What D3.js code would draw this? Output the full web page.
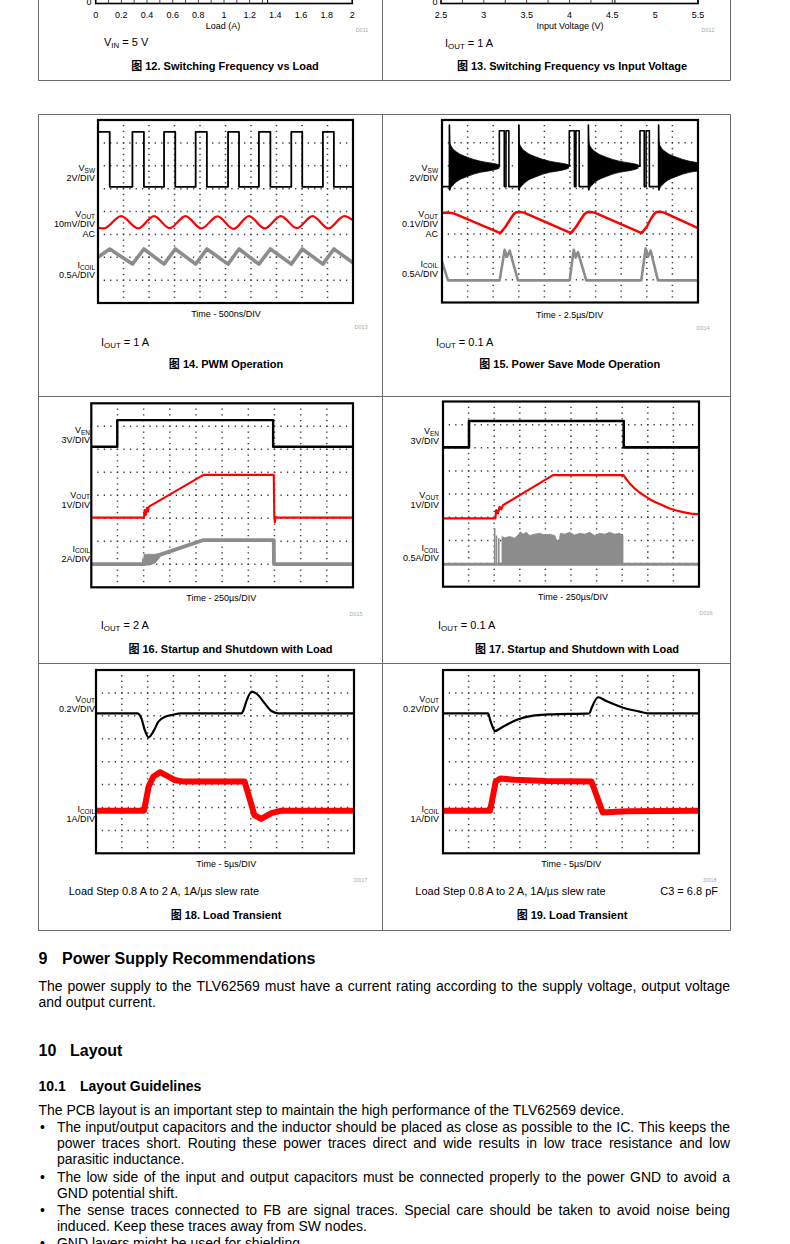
<!DOCTYPE html>
<html><head><meta charset="utf-8">
<script src="https://cdn.jsdelivr.net/npm/d3@7"></script>
<style>
body{margin:0;background:#fff}
svg{display:block}
text{font-family:"Liberation Sans",Arial,Helvetica,sans-serif;white-space:pre}
</style>
</head><body>
<svg id="c" width="790" height="1244"></svg>
<script>
// ================= DATA =================
// Fig 12 / 13 (only bottom strip visible)
const f12TickValues=[0,0.2,0.4,0.6,0.8,1,1.2,1.4,1.6,1.8,2];
const f12TickLabels=["0","0.2","0.4","0.6","0.8","1","1.2","1.4","1.6","1.8","2"];
const f12Grid=[0.1,0.2,0.3,0.4,0.5,0.6,0.7,0.8,0.9,1.0,1.1,1.2,1.3];
const f12LegendStart=1.34;
const f13TickValues=[2.5,3,3.5,4,4.5,5,5.5];
const f13TickLabels=["2.5","3","3.5","4","4.5","5","5.5"];
const f13Grid=[2.75,3,3.25,3.5,3.75,4,4.25,4.5];
const f13LegendStart=4.53;

// Fig 14 PWM operation (time in ns)
const f14Pulses=[[0,230],[675,900],[1295,1515],[1915,2135],[2550,2765],[3155,3380],[3790,4005],[4410,4625]];
const f14VswHigh=4.8; // V
const f14VoutmV=[[0,-2.4],[115,-2.8],[452,2.6],[788,-2.8],[1098,2.6],[1405,-2.7],[1715,2.6],[2025,-2.8],[2343,2.5],[2658,-3.0],[2960,2.6],[3268,-2.8],[3585,2.6],[3898,-2.7],[4208,2.6],[4518,-2.8],[4828,2.6],[5000,0.8]];
const f14Icoil=[[0,1.0],[230,1.18],[675,0.85],[900,1.18],[1295,0.85],[1515,1.18],[1915,0.85],[2135,1.18],[2550,0.85],[2765,1.18],[3155,0.85],[3380,1.18],[3790,0.85],[4005,1.18],[4410,0.85],[4625,1.18],[5000,0.88]];

// Fig 15 Power save mode (time in us)
const f15Vsw=[[0,0],[0.725,0],[0.725,5.4],[0.76,-0.3],[0.8,1.8],[5.6,1.8],[5.6,4.9],[6.08,4.9],[6.08,0],[6.25,0],[6.25,4.9],[6.53,4.9],[6.53,0],[7.5,0],[7.5,5.4],[7.53,-0.3],[7.58,1.8],[12.43,1.8],[12.43,4.9],[12.93,4.9],[12.93,0],[13.08,0],[13.08,4.9],[13.4,4.9],[13.4,0],[14.3,0],[14.3,5.4],[14.33,-0.3],[14.38,1.8],[19.33,1.8],[19.33,4.9],[19.75,4.9],[19.75,0],[19.93,0],[19.93,4.9],[20.25,4.9],[20.25,0],[21.15,0],[21.15,5.4],[21.18,-0.3],[21.23,1.8],[25,1.8]];
const f15RingStarts=[0.725,7.5,14.3,21.15];
const f15RingEnvelope=[[0,5.4,-0.3],[0.06,3.8,-0.2],[0.22,3.48,0.0],[0.7,3.04,0.43],[1.68,2.6,0.87],[3.0,2.23,1.25],[4.3,2.03,1.45],[4.85,1.92,1.6]];
const f15VoutmV=[[0,40],[0.5,43],[1.2,38],[5.7,-48],[6.2,-20],[6.7,15],[7.0,35],[7.25,44],[7.6,45],[8.0,42],[12.6,-48],[13.1,-20],[13.6,15],[13.9,35],[14.15,44],[14.5,45],[14.9,42],[19.5,-48],[20.0,-20],[20.4,15],[20.7,35],[20.95,45],[21.3,46],[21.7,42],[25,-26]];
const f15Icoil=[[0,0.41],[0.59,0],[5.63,0],[6.12,0.67],[6.35,0.52],[6.61,0.65],[7.42,0],[12.47,0],[12.86,0.67],[13.06,0.5],[13.28,0.62],[14.09,0],[19.46,0],[19.89,0.7],[20.12,0.52],[20.38,0.65],[21.09,0],[25,0]];

// Fig 16 Startup / shutdown, 2 A (time in us)
const f16En=[[0,0],[248,0],[248,3.48],[1737,3.48],[1737,0],[2500,0]];
const f16Vout=[[0,0],[503,0],[509,0.33],[522,0.12],[531,0.43],[541,0.26],[551,0.48],[1072,1.86],[1743,1.86],[1748,0.05],[1753,-0.2],[1760,0.03],[1770,0],[2500,0]];
const f16Icoil=[[0,0],[503,0],[503,0.4],[653,0.8],[1072,2.09],[1743,2.09],[1745,0],[2500,0]];
const f16IcoilNoise=[[503,-0.1,0.84],[560,-0.08,0.86],[610,0.1,0.84],[653,0.55,0.9]];

// Fig 17 Startup / shutdown, 0.1 A (time in us)
const f17En=[[0,0],[254,0],[254,3.41],[1765,3.41],[1765,0],[2500,0]];
const f17Vout=[[0,0],[511,0],[520,0.36],[537,0.22],[553,0.5],[569,0.39],[586,0.57],[1074,1.87],[1762,1.87],[1790,1.70],[1823,1.51],[1870,1.30],[1920,1.12],[1970,0.97],[2018,0.83],[2065,0.72],[2116,0.62],[2165,0.52],[2214,0.43],[2280,0.34],[2344,0.27],[2420,0.21],[2500,0.17]];
const f17IcoilBase=[[0,0],[2500,0]];
const f17Spikes=[[505,0.78],[522,0.62],[545,0.56]];
const f17BurstTop=[[576,0.60],[602,0.57],[651,0.60],[700,0.56],[732,0.63],[755,0.70],[781,0.65],[814,0.69],[846,0.62],[895,0.65],[944,0.67],[993,0.63],[1042,0.65],[1091,0.62],[1113,0.50],[1133,0.49],[1146,0.67],[1188,0.65],[1237,0.69],[1286,0.63],[1335,0.67],[1384,0.65],[1432,0.69],[1481,0.62],[1530,0.67],[1579,0.65],[1628,0.69],[1676,0.65],[1725,0.67],[1758,0.62]];

// Fig 18 / 19 Load transient (time in us)
const f18Vout=[[0,0],[8.0,0],[8.8,-0.044],[9.45,-0.146],[10.2,-0.21],[11.1,-0.16],[12.1,-0.073],[13.4,-0.03],[14.7,-0.015],[16.5,0],[28.2,0],[28.6,0.03],[29.1,0.10],[30.2,0.19],[31.4,0.16],[32.7,0.087],[34.0,0.02],[35.3,0],[50,0]];
const f18Icoil=[[0,0.8],[9.3,0.8],[10.2,1.85],[11.1,2.28],[12.4,2.48],[13.5,2.35],[15.2,2.14],[17,2.07],[28.8,2.07],[30.7,0.61],[32.0,0.44],[34.0,0.69],[35.9,0.8],[50,0.8]];
const f19Vout=[[0,0],[8.8,0],[9.2,-0.058],[9.8,-0.13],[10.1,-0.155],[11.7,-0.117],[14.3,-0.058],[17.6,-0.02],[20.8,-0.01],[28.6,0],[29.0,0.044],[30.3,0.14],[31.9,0.107],[35.2,0.049],[38.4,0.015],[40,0],[50,0]];
const f19Icoil=[[0,0.8],[9.2,0.8],[10.3,2.07],[11.2,2.2],[14,2.15],[20,2.1],[29,2.07],[31.2,0.72],[33,0.74],[36,0.78],[50,0.8]];

// Text
const para1=["The power supply to the TLV62569 must have a current rating according to the supply voltage, output voltage","and output current."];
const para2=["The PCB layout is an important step to maintain the high performance of the TLV62569 device."];
const bullet1=["The input/output capacitors and the inductor should be placed as close as possible to the IC. This keeps the","power traces short. Routing these power traces direct and wide results in low trace resistance and low","parasitic inductance."];
const bullet2=["The low side of the input and output capacitors must be connected properly to the power GND to avoid a","GND potential shift."];
const bullet3=["The sense traces connected to FB are signal traces. Special care should be taken to avoid noise being","induced. Keep these traces away from SW nodes."];
const bullet4=["GND layers might be used for shielding."];

// ================= DRAWING =================
const svg=d3.select('#c');
const defs=svg.append('defs');
const RED='#ff0000', GRAY='#8c8c8c', BLK='#000';
const CJK='"Noto Sans CJK SC","Noto Sans CJK JP",sans-serif';

function rich(sel,str,size){
  const re=/_\{([^}]*)\}/g; let last=0,m,shifted=false;
  function add(s,sub){const t=sel.append('tspan').text(s);
    if(sub){t.attr('font-size',size*0.72).attr('dy',size*0.22);shifted=true;}
    else if(shifted){t.attr('dy',-size*0.22);shifted=false;}}
  while((m=re.exec(str))){ if(m.index>last) add(str.slice(last,m.index),false); add(m[1],true); last=re.lastIndex; }
  if(last<str.length) add(str.slice(last),false);
}
function txt(x,y,str,size,opts={}){
  const t=svg.append('text').attr('x',x).attr('y',y).attr('font-size',size)
    .attr('text-anchor',opts.anchor||'start').attr('fill',opts.fill||'#000');
  if(opts.bold) t.attr('font-weight','bold');
  rich(t,str,size); return t;
}
function caption(cx,y,num,title){
  const t=svg.append('text').attr('x',cx).attr('y',y).attr('font-size',11).attr('font-weight','bold').attr('text-anchor','middle');
  t.append('tspan').attr('font-family',CJK).text('图');
  t.append('tspan').text(' '+num+'. '+title);
}

// ---- table borders ----
const border='#6a6a6a';
const bl=(x1,y1,x2,y2)=>svg.append('line').attr('x1',x1).attr('y1',y1).attr('x2',x2).attr('y2',y2).attr('stroke',border).attr('stroke-width',1);
[38.5,382.5,730.5].forEach(x=>bl(x,0,x,80.5));
bl(38.5,80.5,730.5,80.5);
[38.5,382.5,730.5].forEach(x=>bl(x,114.5,x,930.5));
[114.5,396.5,663.5,930.5].forEach(y=>bl(38.5,y,730.5,y));

// ---- top strips (fig 12, 13) ----
function strip(o){
  const x=d3.scaleLinear().domain(o.domain).range([o.x0,o.x1]);
  const g=svg.append('g');
  g.selectAll('line.gr').data(o.grid).join('line').attr('x1',d=>x(d)).attr('x2',d=>x(d)).attr('y1',-20).attr('y2',3.5).attr('stroke','#333').attr('stroke-width',0.9);
  g.append('rect').attr('x',x(o.legend)).attr('y',-20).attr('width',o.x1-x(o.legend)).attr('height',23.5).attr('fill','#fff').attr('stroke','#000').attr('stroke-width',1);
  g.append('rect').attr('x',o.x0).attr('y',-40).attr('width',o.x1-o.x0).attr('height',43.5).attr('fill','none').attr('stroke','#000').attr('stroke-width',1.6);
  g.selectAll('text.tk').data(o.ticks).join('text').attr('x',d=>x(d)).attr('y',17.5).attr('font-size',9).attr('text-anchor','middle').text((d,i)=>o.labels[i]);
  txt(o.zeroX,5,'0',9,{anchor:'middle'});
}
strip({domain:[0,2],x0:95.7,x1:352.3,grid:f12Grid,legend:f12LegendStart,ticks:f12TickValues,labels:f12TickLabels,zeroX:89});
strip({domain:[2.5,5.5],x0:441,x1:698,grid:f13Grid,legend:f13LegendStart,ticks:f13TickValues,labels:f13TickLabels,zeroX:435});
txt(223,28.5,'Load (A)',9,{anchor:'middle'});
txt(570,28.5,'Input Voltage (V)',9,{anchor:'middle'});
txt(362,32,'D011',5.5,{anchor:'middle',fill:'#aaa'});
txt(708,32,'D012',5.5,{anchor:'middle',fill:'#aaa'});
txt(104,46,'V_{IN} = 5 V',11);
txt(445,47,'I_{OUT} = 1 A',11);
caption(225,70,'12','Switching Frequency vs Load');
caption(572,70,'13','Switching Frequency vs Input Voltage');

// ---- scope frame ----
let clipN=0;
function scope(o){
  const g=svg.append('g');
  const x=d3.scaleLinear().domain([0,o.tMax]).range([o.x,o.x+o.w]);
  const dw=o.w/10, dh=o.h/8;
  const ys=o.channels.map(c=>d3.scaleLinear().domain([-c.z*c.per,(8-c.z)*c.per]).range([o.y+o.h,o.y]));
  const gx=d3.range(1,10).map(i=>x(i*o.tMax/10));
  const gy=d3.range(1,8).map(j=>o.y+j*dh);
  g.selectAll('line.v').data(gx).join('line').attr('x1',d=>d).attr('x2',d=>d).attr('y1',o.y).attr('y2',o.y+o.h)
    .attr('stroke','#3a3a3a').attr('stroke-width',1.5).attr('stroke-dasharray',`1.3 ${dh/4-1.3}`).attr('stroke-dashoffset',0.65);
  g.selectAll('line.h').data(gy).join('line').attr('y1',d=>d).attr('y2',d=>d).attr('x1',o.x).attr('x2',o.x+o.w)
    .attr('stroke','#3a3a3a').attr('stroke-width',1.5).attr('stroke-dasharray',`1.3 ${dw/4-1.3}`).attr('stroke-dashoffset',0.65);
  const id='clip'+(clipN++);
  defs.append('clipPath').attr('id',id).append('rect').attr('x',o.x).attr('y',o.y).attr('width',o.w).attr('height',o.h);
  const tg=g.append('g').attr('clip-path',`url(#${id})`);
  o.labels.forEach(L=>{
    L.lines.forEach((s,i)=>{
      const t=g.append('text').attr('x',o.labelX).attr('y',L.y+i*10).attr('font-size',9).attr('text-anchor','end');
      rich(t,s,9);
    });
  });
  const frame=()=>g.append('rect').attr('x',o.x).attr('y',o.y).attr('width',o.w).attr('height',o.h).attr('fill','none').attr('stroke','#000').attr('stroke-width',2.2);
  return {g:tg,x,ys,frame};
}
function trace(s,ci,data,color,width,curve){
  const y=s.ys[ci];
  s.g.append('path').attr('d',d3.line().x(d=>s.x(d[0])).y(d=>y(d[1])).curve(curve||d3.curveLinear)(data))
    .attr('fill','none').attr('stroke',color).attr('stroke-width',width).attr('stroke-linejoin','round');
}
function band(s,ci,data,color,curve){
  const y=s.ys[ci];
  s.g.append('path').attr('d',d3.area().x(d=>s.x(d[0])).y0(d=>y(d[1])).y1(d=>y(d[2])).curve(curve||d3.curveLinear)(data))
    .attr('fill',color).attr('stroke',color).attr('stroke-width',0.8);
}
function squareWave(pulses,high,tMax){
  const pts=[];
  pulses.forEach(([r,f],i)=>{ if(!(i===0&&r===0)) pts.push([r,0]); pts.push([r,high],[f,high],[f,0]); });
  pts.push([tMax,0]); return pts;
}

// ---- Fig 14 ----
{
  const s=scope({x:98,y:120,w:255,h:183,tMax:5000,labelX:95,
    channels:[{z:5.08,per:2},{z:3.54,per:10},{z:0,per:0.5}],
    labels:[{lines:['V_{SW}','2V/DIV'],y:171},{lines:['V_{OUT}','10mV/DIV','AC'],y:217},{lines:['I_{COIL}','0.5A/DIV'],y:268}]});
  trace(s,2,f14Icoil,GRAY,3.6);
  trace(s,1,f14VoutmV,RED,2.2,d3.curveMonotoneX);
  trace(s,0,squareWave(f14Pulses,f14VswHigh,5000),BLK,1.8);
  s.frame();
  txt(226,317,'Time - 500ns/DIV',9,{anchor:'middle'});
  txt(361,329,'D013',5.5,{anchor:'middle',fill:'#aaa'});
  txt(101,346,'I_{OUT} = 1 A',11);
  caption(226,368,'14','PWM Operation');
}
// ---- Fig 15 ----
{
  const s=scope({x:442,y:120,w:256,h:182.5,tMax:25,labelX:438,
    channels:[{z:5.08,per:2},{z:3.52,per:100},{z:0.97,per:0.5}],
    labels:[{lines:['V_{SW}','2V/DIV'],y:171},{lines:['V_{OUT}','0.1V/DIV','AC'],y:217},{lines:['I_{COIL}','0.5A/DIV'],y:266.5}]});
  trace(s,2,f15Icoil,GRAY,2.6);
  trace(s,1,f15VoutmV,RED,2.5);
  f15RingStarts.forEach(t0=>band(s,0,f15RingEnvelope.map(d=>[t0+d[0],d[2],d[1]]),BLK,d3.curveMonotoneX));
  trace(s,0,f15Vsw,BLK,1.6);
  s.frame();
  txt(569.7,317.5,'Time - 2.5µs/DIV',9,{anchor:'middle'});
  txt(703,330,'D014',5.5,{anchor:'middle',fill:'#aaa'});
  txt(436,345.7,'I_{OUT} = 0.1 A',11);
  caption(569.7,368,'15','Power Save Mode Operation');
}
// ---- Fig 16 ----
{
  const s=scope({x:91.3,y:403.3,w:261.7,h:184,tMax:2500,labelX:90,
    channels:[{z:6.11,per:3},{z:3.03,per:1},{z:1.01,per:2}],
    labels:[{lines:['V_{EN}','3V/DIV'],y:433},{lines:['V_{OUT}','1V/DIV'],y:497.5},{lines:['I_{COIL}','2A/DIV'],y:551.5}]});
  band(s,2,f16IcoilNoise,GRAY);
  trace(s,2,f16Icoil,GRAY,3.8);
  trace(s,1,f16Vout,RED,2.1);
  trace(s,0,f16En,BLK,2.4);
  s.frame();
  txt(221.3,600.5,'Time - 250µs/DIV',9,{anchor:'middle'});
  txt(356,616,'D015',5.5,{anchor:'middle',fill:'#aaa'});
  txt(100.7,629,'I_{OUT} = 2 A',11);
  caption(230.5,653,'16','Startup and Shutdown with Load');
}
// ---- Fig 17 ----
{
  const s=scope({x:443,y:401.5,w:256,h:185.2,tMax:2500,labelX:439,
    channels:[{z:6.02,per:3},{z:2.95,per:1},{z:0.97,per:0.5}],
    labels:[{lines:['V_{EN}','3V/DIV'],y:434},{lines:['V_{OUT}','1V/DIV'],y:498},{lines:['I_{COIL}','0.5A/DIV'],y:551}]});
  trace(s,2,f17IcoilBase,GRAY,3);
  f17Spikes.forEach(d=>trace(s,2,[[d[0],0],[d[0],d[1]]],GRAY,1.6));
  band(s,2,f17BurstTop.map(d=>[d[0],0,d[1]]),GRAY);
  trace(s,1,f17Vout,RED,2.2);
  trace(s,0,f17En,BLK,2.6);
  s.frame();
  txt(573,600,'Time - 250µs/DIV',9,{anchor:'middle'});
  txt(706,615,'D016',5.5,{anchor:'middle',fill:'#aaa'});
  txt(438,629,'I_{OUT} = 0.1 A',11);
  caption(577,653,'17','Startup and Shutdown with Load');
}
// ---- Fig 18 ----
{
  const s=scope({x:96,y:670,w:258,h:183.3,tMax:50,labelX:95,
    channels:[{z:6.11,per:0.2},{z:1.06,per:1}],
    labels:[{lines:['V_{OUT}','0.2V/DIV'],y:701.5},{lines:['I_{COIL}','1A/DIV'],y:812}]});
  trace(s,1,f18Icoil,RED,6);
  trace(s,0,f18Vout,BLK,2.2,d3.curveMonotoneX);
  s.frame();
  txt(226.3,866.5,'Time - 5µs/DIV',9,{anchor:'middle'});
  txt(360.7,881.5,'D017',5.5,{anchor:'middle',fill:'#aaa'});
  txt(68.7,895,'Load Step 0.8 A to 2 A, 1A/µs slew rate',11);
  caption(226,919,'18','Load Transient');
}
// ---- Fig 19 ----
{
  const s=scope({x:443,y:670,w:256,h:183.3,tMax:50,labelX:439,
    channels:[{z:6.11,per:0.2},{z:1.06,per:1}],
    labels:[{lines:['V_{OUT}','0.2V/DIV'],y:701.5},{lines:['I_{COIL}','1A/DIV'],y:812}]});
  trace(s,1,f19Icoil,RED,6);
  trace(s,0,f19Vout,BLK,2.2,d3.curveMonotoneX);
  s.frame();
  txt(571.3,866.5,'Time - 5µs/DIV',9,{anchor:'middle'});
  txt(710,882,'D018',5.5,{anchor:'middle',fill:'#aaa'});
  txt(415.3,895,'Load Step 0.8 A to 2 A, 1A/µs slew rate',11);
  txt(718,895,'C3 = 6.8 pF',11,{anchor:'end'});
  caption(572,919,'19','Load Transient');
}

// ---- body text ----
function measure(str,size,bold){
  const t=svg.append('text').attr('font-size',size).attr('font-weight',bold?'bold':'normal').text(str);
  const w=t.node().getComputedTextLength(); t.remove(); return w;
}
const BODY=13*586/measure(para2[0],13);
function line(str,x0,x1,y,justify){
  const t=svg.append('text').attr('y',y).attr('font-size',BODY);
  if(!justify){t.attr('x',x0).text(str);return;}
  const words=str.split(' ');
  const ws=words.map(w=>measure(w,BODY));
  const gap=(x1-x0-d3.sum(ws))/(words.length-1);
  let x=x0; words.forEach((w,i)=>{t.append('tspan').attr('x',x).text(w); x+=ws[i]+gap;});
}
function paragraph(lines,x0,x1,y0,lh){
  lines.forEach((s,i)=>line(s,x0,x1,y0+i*lh,i<lines.length-1));
}
const RIGHT=730;
txt(38.5,964,'9',16,{bold:true});
txt(62,964,'Power Supply Recommendations',16,{bold:true});
paragraph(para1,38.5,RIGHT,990.5,16);
txt(38.5,1056,'10',16,{bold:true});
txt(70,1056,'Layout',16,{bold:true});
txt(38.5,1091,'10.1',14,{bold:true});
txt(80,1091,'Layout Guidelines',14,{bold:true});
paragraph(para2,38.5,RIGHT,1114.5,16);
const bullets=[[bullet1,1131.5],[bullet2,1181.5],[bullet3,1214.5],[bullet4,1247.5]];
bullets.forEach(([b,y])=>{
  svg.append('text').attr('x',40).attr('y',y).attr('font-size',BODY).text('•');
  paragraph(b,57,RIGHT,y,16);
});
</script>
</body></html>
